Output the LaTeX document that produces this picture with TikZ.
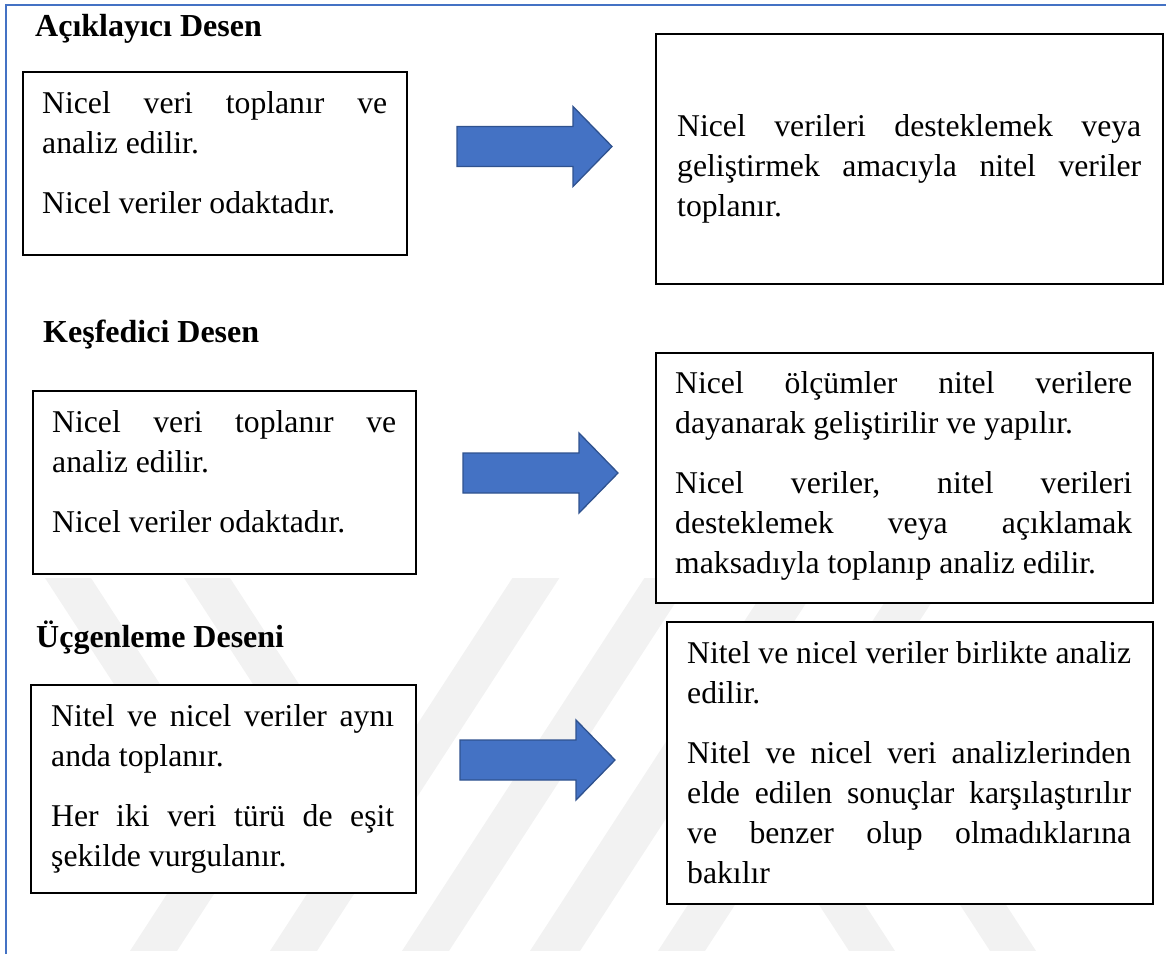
\documentclass[tikz,border=0pt]{standalone}
\usepackage{fontspec}
\setmainfont{Liberation Serif}

\definecolor{frameblue}{RGB}{68,114,196}
\definecolor{arrowblue}{RGB}{68,114,196}
\definecolor{arrowedge}{RGB}{47,82,143}
\definecolor{wmgray}{RGB}{242,242,242}

% one justified line, one ragged last line, gap between paragraphs
\newcommand{\jl}[1]{\makebox[\linewidth][s]{#1}\par}
\newcommand{\lastline}[1]{\mbox{#1}\par}
\newcommand{\pgap}{\vspace{20.5pt}}
\newcommand{\boxtext}[2]{\begin{minipage}[t]{#1}\fontsize{31.7}{40}\selectfont
  \parindent=0pt\parskip=0pt #2\end{minipage}}

% block arrow pointing right; #1,#2 = left end of the shaft (middle)
\newcommand{\blockarr}[2]{%
  \draw[blockarrow] (#1,{#2-20}) -- ({#1+116},{#2-20}) -- ({#1+116},{#2-40})
    -- ({#1+155},#2) -- ({#1+116},{#2+40}) -- ({#1+116},{#2+20})
    -- (#1,{#2+20}) -- cycle;}

% pale diagonal stripes in the background
\newcommand{\upband}[4]{% bottom-left x, bottom y, top y, width
  \fill[wmark] (#1,#2) -- ({#1+#4},#2) -- ({#1+#4+0.65*(#2-#3)},#3)
    -- ({#1+0.65*(#2-#3)},#3) -- cycle;}
\newcommand{\downband}[4]{% top-left x, top y, bottom y, width
  \fill[wmark] (#1,#2) -- ({#1+#4},#2) -- ({#1+#4+0.65*(#3-#2)},#3)
    -- ({#1+0.65*(#3-#2)},#3) -- cycle;}

\tikzset{
  box/.style={draw=black, line width=1.8pt, fill=white, inner sep=0pt,
    anchor=north west},
  heading/.style={anchor=base west, inner sep=0pt,
    font=\fontsize{32}{38}\selectfont\bfseries},
  para/.style={anchor=base west, inner sep=0pt},
  blockarrow/.style={fill=arrowblue, draw=arrowedge, line width=1.3pt,
    line join=miter},
  frame/.style={draw=frameblue, line width=2.5pt},
  wmark/.style={fill=wmgray},
}

\begin{document}
\begin{tikzpicture}[x=1pt,y=-1pt]
\useasboundingbox (0,0) rectangle (1166,954);

% background stripes
\begin{scope}
  \clip (0,578) rectangle (1166,950);
  \downband{45}{578}{760}{46}
  \downband{184}{578}{760}{46}
  \upband{128}{954}{720}{47}
  \upband{268}{954}{578}{47}
  \upband{400}{954}{578}{47}
  \upband{528}{954}{578}{50}
  \upband{656}{954}{578}{47}
  \downband{783.4}{850}{954}{46}
  \downband{924.4}{850}{954}{46}
\end{scope}

% page frame
\draw[frame] (6,954) -- (6,5) -- (1166,5);

% headings
\node[heading] (h1) at (35,36)  {Açıklayıcı Desen};
\node[heading] (h2) at (43,342) {Keşfedici Desen};
\node[heading] (h3) at (36,647) {Üçgenleme Deseni};

% boxes
\node[box, minimum width=384pt, minimum height=183pt] (l1) at (22,71)   {};
\node[box, minimum width=507pt, minimum height=250pt] (r1) at (655,33)  {};
\node[box, minimum width=383pt, minimum height=183pt] (l2) at (32,390)  {};
\node[box, minimum width=497pt, minimum height=250pt] (r2) at (655,352) {};
\node[box, minimum width=385pt, minimum height=208pt] (l3) at (30,684)  {};
\node[box, minimum width=486pt, minimum height=282pt] (r3) at (666,621) {};

% box texts
\node[para] (t1) at (42,113) {\boxtext{345pt}{%
  \jl{Nicel veri toplanır ve}
  \lastline{analiz edilir.}\pgap
  \lastline{Nicel veriler odaktadır.}}};
\node[para] (u1) at (677,136) {\boxtext{464pt}{%
  \jl{Nicel verileri desteklemek veya}
  \jl{geliştirmek amacıyla nitel veriler}
  \lastline{toplanır.}}};
\node[para] (t2) at (52,432) {\boxtext{344pt}{%
  \jl{Nicel veri toplanır ve}
  \lastline{analiz edilir.}\pgap
  \lastline{Nicel veriler odaktadır.}}};
\node[para] (u2) at (675,393) {\boxtext{457pt}{%
  \jl{Nicel ölçümler nitel verilere}
  \lastline{dayanarak geliştirilir ve yapılır.}\pgap
  \jl{Nicel veriler, nitel verileri}
  \jl{desteklemek veya açıklamak}
  \lastline{maksadıyla toplanıp analiz edilir.}}};
\node[para] (t3) at (51,726) {\boxtext{343pt}{%
  \jl{Nitel ve nicel veriler aynı}
  \lastline{anda toplanır.}\pgap
  \jl{Her iki veri türü de eşit}
  \lastline{şekilde vurgulanır.}}};
\node[para] (u3) at (687,663) {\boxtext{444pt}{%
  \jl{Nitel ve nicel veriler birlikte analiz}
  \lastline{edilir.}\pgap
  \jl{Nitel ve nicel veri analizlerinden}
  \jl{elde edilen sonuçlar karşılaştırılır}
  \jl{ve benzer olup olmadıklarına}
  \lastline{bakılır}}};

% block arrows
\blockarr{457}{146.5}
\blockarr{463}{473}
\blockarr{460}{760}
\end{tikzpicture}
\end{document}
